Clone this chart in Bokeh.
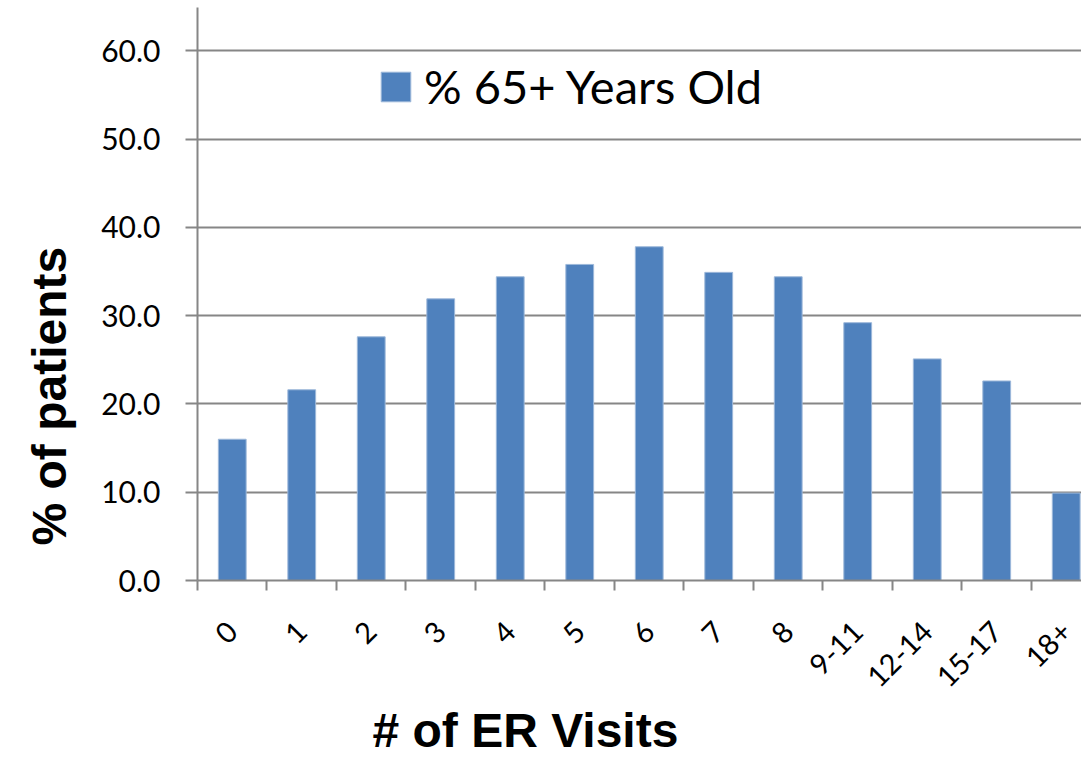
import math
from bokeh.plotting import figure
from bokeh.models import Range1d, FixedTicker, ColumnDataSource, Legend, LegendItem, Title
from bokeh.embed import file_html
from bokeh.resources import INLINE

categories = ["0", "1", "2", "3", "4", "5", "6", "7", "8", "9-11", "12-14", "15-17", "18+"]
values = [16.0, 21.6, 27.6, 31.9, 34.4, 35.8, 37.8, 34.9, 34.4, 29.2, 25.1, 22.6, 9.9]
series_name = "% 65+ Years Old"
y_ticks = [0, 10, 20, 30, 40, 50, 60]
x_title = "# of ER Visits"
y_title = "% of patients"

BAR = "#4F81BD"
GRID = "#868686"

centers = [i + 0.5 for i in range(len(categories))]
boundaries = list(range(len(categories) + 1))

src = ColumnDataSource(dict(x=centers, top=values, cat=categories))

p = figure(width=1081, height=759, output_backend="svg", toolbar_location=None,
           x_range=Range1d(0, 12.72), y_range=Range1d(0, 64.9),
           min_border_left=197, min_border_right=0, min_border_top=7, min_border_bottom=178)
p.outline_line_color = None

r = p.vbar(x="x", top="top", width=0.4, source=src, fill_color=BAR, line_color="#9DB8DA", line_width=1)

# x axis
p.xaxis.ticker = FixedTicker(ticks=centers, minor_ticks=boundaries)
p.xaxis.major_label_overrides = {c: lab for c, lab in zip(centers, categories)}
p.xaxis.major_tick_out = 0
p.xaxis.major_tick_in = 0
p.xaxis.minor_tick_out = 10
p.xaxis.minor_tick_in = 0
p.xaxis.minor_tick_line_color = GRID
p.xaxis.minor_tick_line_width = 2
p.xaxis.axis_line_color = GRID
p.xaxis.axis_line_width = 2
p.xaxis.major_label_orientation = math.pi / 4
p.xaxis.major_label_text_font = "Lato"
p.xaxis.major_label_text_font_size = "29px"
p.xaxis.major_label_text_color = "black"
p.xaxis.major_label_standoff = 36

# y axis
p.yaxis.ticker = FixedTicker(ticks=y_ticks)
p.yaxis.major_label_overrides = {t: f"{t:.1f}" for t in y_ticks}
p.yaxis.major_tick_out = 12
p.yaxis.major_tick_in = 0
p.yaxis.minor_tick_out = 0
p.yaxis.minor_tick_in = 0
p.yaxis.major_tick_line_color = GRID
p.yaxis.major_tick_line_width = 2
p.yaxis.axis_line_color = GRID
p.yaxis.axis_line_width = 2
p.yaxis.major_label_text_font = "Lato"
p.yaxis.major_label_text_font_size = "30px"
p.yaxis.major_label_text_color = "black"
p.yaxis.major_label_standoff = 25

p.xgrid.grid_line_color = None
p.ygrid.ticker = FixedTicker(ticks=y_ticks)
p.ygrid.grid_line_color = GRID
p.ygrid.grid_line_width = 2

# axis titles (placed like the original, off-centre)
p.add_layout(Title(text=x_title, align="left", offset=175, standoff=5,
                   text_font="Liberation Sans", text_font_style="bold",
                   text_font_size="48px", text_color="black"), "below")
p.add_layout(Title(text=y_title, align="left", offset=35, standoff=41,
                   vertical_align="top",
                   text_font="Liberation Sans", text_font_style="bold",
                   text_font_size="48px", text_color="black"), "left")

legend = Legend(items=[LegendItem(label=series_name, renderers=[r])], location=(180, 466))
legend.padding = 0
legend.margin = 0
legend.border_line_alpha = 0
legend.background_fill_alpha = 0
legend.glyph_width = 37
legend.glyph_height = 37
legend.label_height = 37
legend.label_standoff = 10
legend.label_text_font = "Lato"
legend.label_text_font_size = "47px"
legend.label_text_color = "black"
p.add_layout(legend)

open("out.html", "w").write(file_html(p, INLINE))
